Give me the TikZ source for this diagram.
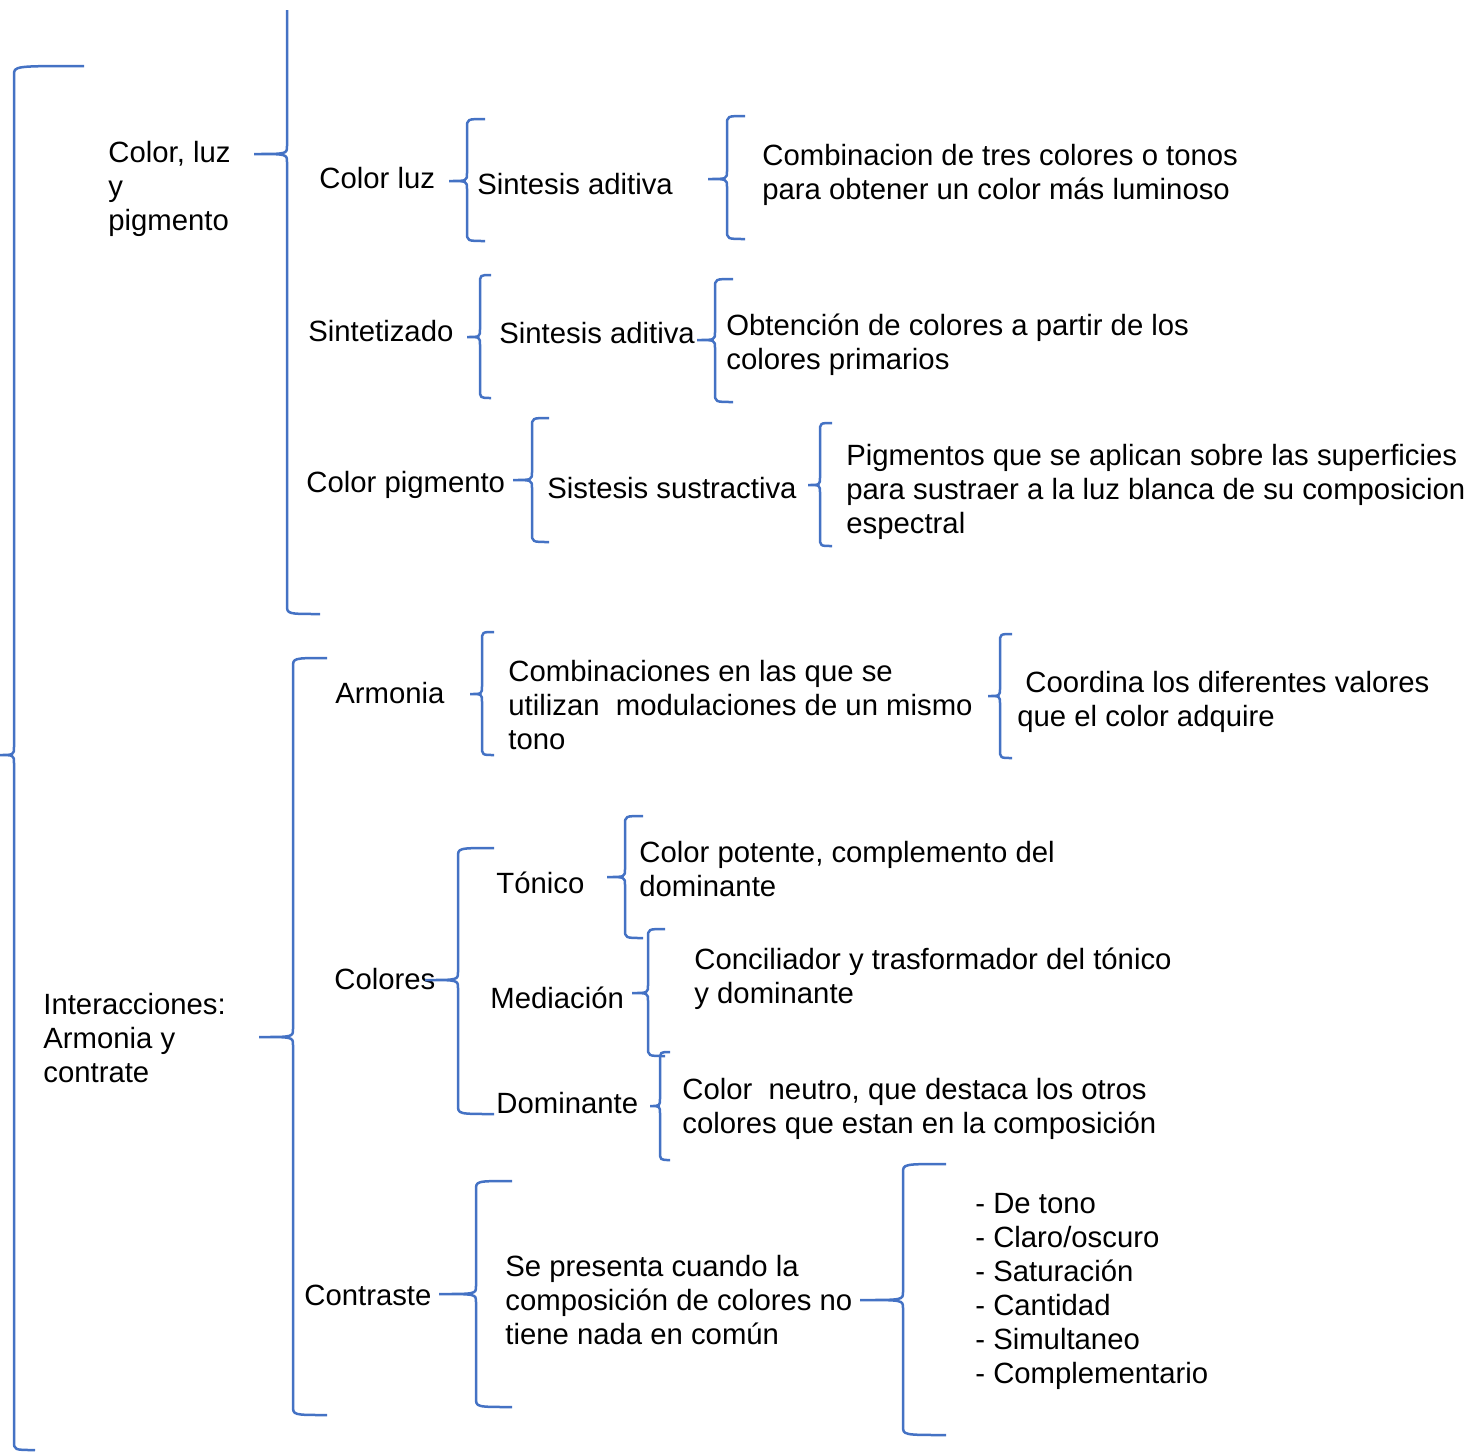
\documentclass[tikz,border=0pt]{standalone}
\usepackage{fontspec}
\setmainfont{Liberation Sans}
\usetikzlibrary{positioning}

\definecolor{bracecol}{RGB}{68,114,196}

% word-like curly brace: spine x, top y, top arm x, tip x, tip y, bottom y, bottom arm x
\newcommand{\curlyb}[7]{%
  \draw[curly] (#3,#2) .. controls (#1,#2) .. (#1,#2+9)
    -- (#1,#5-8) .. controls (#1,#5) .. (#4,#5)
    .. controls (#1,#5) .. (#1,#5+8)
    -- (#1,#6-9) .. controls (#1,#6) .. (#7,#6);}

\begin{document}
\begin{tikzpicture}[x=0.5pt,y=-0.5pt,
  curly/.style={draw=bracecol,line width=1.25pt},
  txt/.style={anchor=base west,inner sep=0pt,align=left,
    font=\fontsize{14.65pt}{17pt}\selectfont}]

  \clip (0,0) rectangle (1472,1452);

  % first level
  \curlyb{14}{66}{84}{-2}{755}{1450}{35}

  % color, luz y pigmento (base anchor sits on the last line)
  \node[txt] (clp) at (108,230) {Color, luz\\y\\pigmento};
  \curlyb{287}{10}{287}{254}{154}{614}{320}

  \node[txt] (cluz) at (319,188) {Color luz};
  \curlyb{467}{119}{485}{449}{181}{241}{485}
  \node[txt] (sadit1) at (477,194) {Sintesis aditiva};
  \curlyb{727}{116}{745}{708}{179}{239}{745}
  \node[txt] (comb) at (762,199) {Combinacion de tres colores o tonos\\para obtener un color más luminoso};

  \node[txt] (sintet) at (308,341) {Sintetizado};
  \curlyb{480}{275}{491}{467}{337}{398}{491}
  \node[txt] (sadit2) at (499,343) {Sintesis aditiva};
  \curlyb{715}{279}{733}{697}{340}{402}{733}
  \node[txt] (obt) at (726,369) {Obtención de colores a partir de los\\colores primarios};

  \node[txt] (cpig) at (306,492) {Color pigmento};
  \curlyb{532}{418}{549}{513}{480}{542}{549}
  \node[txt] (ssus) at (547,498) {Sistesis sustractiva};
  \curlyb{820}{423}{832}{808}{485}{546}{832}
  \node[txt] (pigm) at (846,533) {Pigmentos que se aplican sobre las superficies\\para sustraer a la luz blanca de su composicion\\espectral};

  % interacciones
  \node[txt] (inter) at (43,1082) {Interacciones:\\Armonia y\\contrate};
  \curlyb{293}{658}{327}{259}{1037}{1415}{327}

  \node[txt] (armonia) at (335,703) {Armonia};
  \curlyb{482}{632}{494}{470}{694}{755}{494}
  \node[txt] (combi) at (508,749) {Combinaciones en las que se\\utilizan\ \ modulaciones de un mismo\\tono};
  \curlyb{1000}{634}{1012}{988}{696}{758}{1012}
  \node[txt] (coord) at (1017,726) {\hspace*{4pt}Coordina los diferentes valores\\que el color adquire};

  \node[txt] (colores) at (334,989) {Colores};
  \curlyb{458}{848}{494}{425}{980}{1114}{494}
  \node[txt] (tonico) at (496,893) {Tónico};
  \curlyb{625}{816}{643}{607}{877}{938}{643}
  \node[txt] (potente) at (639,896) {Color potente, complemento del\\dominante};
  \node[txt] (mediacion) at (490,1008) {Mediación};
  \curlyb{648}{929}{665}{632}{993}{1056}{665}
  \node[txt] (concil) at (694,1003) {Conciliador y trasformador del tónico\\y dominante};
  \node[txt] (dominante) at (496,1113) {Dominante};
  \curlyb{660}{1052}{670}{650}{1106}{1160}{670}
  \node[txt] (neutro) at (682,1133) {Color \ neutro, que destaca los otros\\colores que estan en la composición};

  \node[txt] (contraste) at (304,1305) {Contraste};
  \curlyb{476}{1181}{512}{439}{1294}{1407}{512}
  \node[txt] (sepres) at (505,1344) {Se presenta cuando la\\composición de colores no\\tiene nada en común};
  \curlyb{903}{1164}{946}{860}{1300}{1435}{946}
  \node[txt] (lista) at (975,1383) {- De tono\\- Claro/oscuro\\- Saturación\\- Cantidad\\- Simultaneo\\- Complementario};
\end{tikzpicture}
\end{document}
